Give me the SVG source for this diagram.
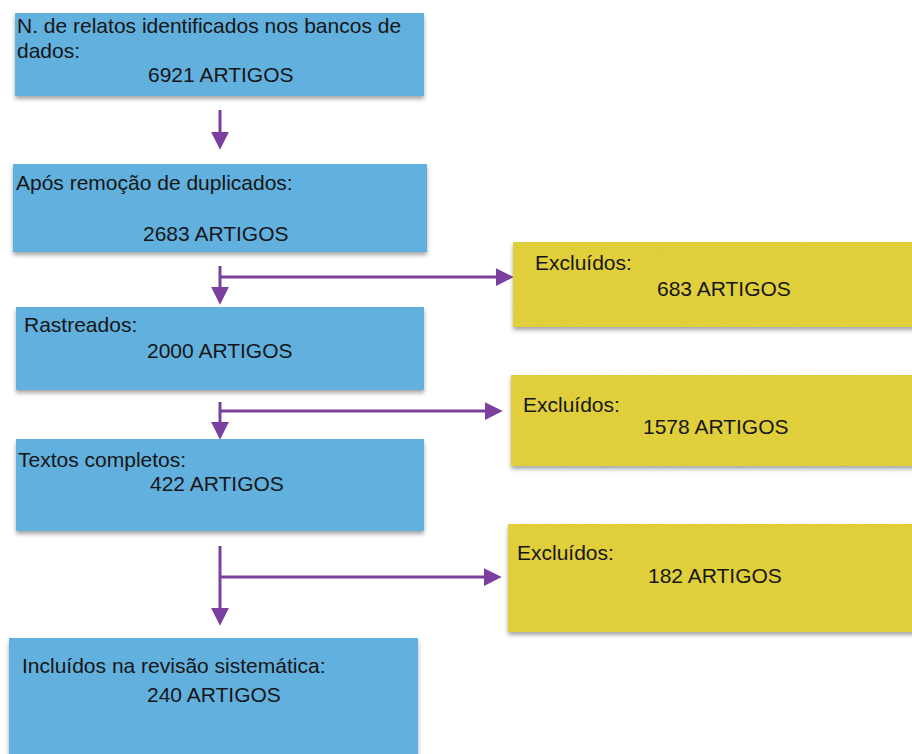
<svg xmlns="http://www.w3.org/2000/svg" width="912" height="754" viewBox="0 0 912 754">
  <style>
    .blue { fill: #62b0de; }
    .yellow { fill: #e4d23a; }
    .grain { fill: #fff; opacity: 0.22; }
    .txt { font-family: "Liberation Sans", Arial, sans-serif; font-size: 21px; fill: #161616; }
    .conn { stroke: #7b3fa0; stroke-width: 3; fill: none; }
  </style>
  <defs>
    <filter id="shadow" x="-5%" y="-10%" width="110%" height="130%">
      <feDropShadow dx="0" dy="3" stdDeviation="2" flood-color="#000" flood-opacity="0.35"/>
    </filter>
    <filter id="noise" x="0" y="0" width="1" height="1">
      <feTurbulence type="fractalNoise" baseFrequency="0.9" numOctaves="2" seed="3" result="t"/>
      <feColorMatrix in="t" type="matrix" values="0 0 0 0 0.5  0 0 0 0 0.45  0 0 0 0 0.05  0 0 0 -1.6 1.2" result="n"/>
      <feComposite in="n" in2="SourceGraphic" operator="in"/>
    </filter>
    <marker id="arrow" markerUnits="userSpaceOnUse" markerWidth="18" markerHeight="18" viewBox="0 0 16 16" refX="2" refY="8" orient="auto">
      <path d="M0,0 L16,8 L0,16 Z" fill="#7b3fa0"/>
    </marker>
  </defs>

  <g id="connectors">
    <line class="conn" x1="220" y1="110" x2="220" y2="134" marker-end="url(#arrow)"/>
    <line class="conn" x1="220" y1="266" x2="220" y2="289" marker-end="url(#arrow)"/>
    <line class="conn" x1="220" y1="277" x2="498" y2="277" marker-end="url(#arrow)"/>
    <line class="conn" x1="220" y1="402" x2="220" y2="424" marker-end="url(#arrow)"/>
    <line class="conn" x1="220" y1="411" x2="487" y2="411" marker-end="url(#arrow)"/>
    <line class="conn" x1="220" y1="546" x2="220" y2="610" marker-end="url(#arrow)"/>
    <line class="conn" x1="220" y1="577" x2="486" y2="577" marker-end="url(#arrow)"/>
  </g>

  <g id="box-identificados">
    <rect class="blue" x="15" y="13" width="409" height="83" filter="url(#shadow)"/>
    <text class="txt" x="17" y="33">N. de relatos identificados nos bancos de</text>
    <text class="txt" x="17" y="58">dados:</text>
    <text class="txt" x="148" y="82">6921 ARTIGOS</text>
  </g>

  <g id="box-duplicados">
    <rect class="blue" x="13" y="164" width="414" height="88" filter="url(#shadow)"/>
    <text class="txt" x="16" y="190">Após remoção de duplicados:</text>
    <text class="txt" x="143" y="241">2683 ARTIGOS</text>
  </g>

  <g id="box-rastreados">
    <rect class="blue" x="16" y="307" width="408" height="83" filter="url(#shadow)"/>
    <text class="txt" x="24" y="332">Rastreados:</text>
    <text class="txt" x="147" y="358">2000 ARTIGOS</text>
  </g>

  <g id="box-textos">
    <rect class="blue" x="16" y="439" width="408" height="92" filter="url(#shadow)"/>
    <text class="txt" x="18" y="467">Textos completos:</text>
    <text class="txt" x="150" y="491">422 ARTIGOS</text>
  </g>

  <g id="box-incluidos">
    <rect class="blue" x="9" y="638" width="409" height="120" filter="url(#shadow)"/>
    <text class="txt" x="22" y="673">Incluídos na revisão sistemática:</text>
    <text class="txt" x="147" y="702">240 ARTIGOS</text>
  </g>

  <g id="excl-1">
    <rect class="yellow" x="513" y="242" width="405" height="85" filter="url(#shadow)"/>
    <rect class="grain" x="513" y="242" width="405" height="85" filter="url(#noise)"/>
    <text class="txt" x="535" y="270">Excluídos:</text>
    <text class="txt" x="657" y="296">683 ARTIGOS</text>
  </g>

  <g id="excl-2">
    <rect class="yellow" x="511" y="375" width="407" height="91" filter="url(#shadow)"/>
    <rect class="grain" x="511" y="375" width="407" height="91" filter="url(#noise)"/>
    <text class="txt" x="523" y="412">Excluídos:</text>
    <text class="txt" x="643" y="434">1578 ARTIGOS</text>
  </g>

  <g id="excl-3">
    <rect class="yellow" x="508" y="524" width="410" height="108" filter="url(#shadow)"/>
    <rect class="grain" x="508" y="524" width="410" height="108" filter="url(#noise)"/>
    <text class="txt" x="517" y="560">Excluídos:</text>
    <text class="txt" x="648" y="583">182 ARTIGOS</text>
  </g>
</svg>
